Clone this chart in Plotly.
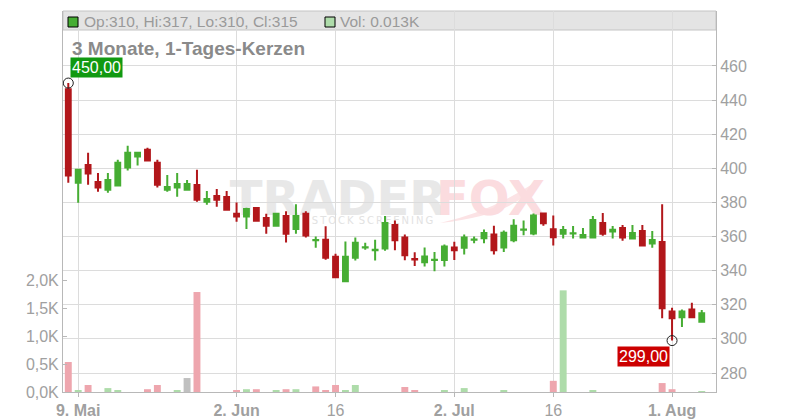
import plotly.graph_objects as go

# ---------------- data ----------------
dates = [
    "2025-05-08", "2025-05-09",
    "2025-05-12", "2025-05-13", "2025-05-14", "2025-05-15", "2025-05-16",
    "2025-05-19", "2025-05-20", "2025-05-21", "2025-05-22", "2025-05-23",
    "2025-05-26", "2025-05-27", "2025-05-28", "2025-05-29", "2025-05-30",
    "2025-06-02", "2025-06-03", "2025-06-04", "2025-06-05", "2025-06-06",
    "2025-06-09", "2025-06-10", "2025-06-11", "2025-06-12", "2025-06-13",
    "2025-06-16", "2025-06-17", "2025-06-18", "2025-06-19", "2025-06-20",
    "2025-06-23", "2025-06-24", "2025-06-25", "2025-06-26", "2025-06-27",
    "2025-06-30", "2025-07-01", "2025-07-02", "2025-07-03", "2025-07-04",
    "2025-07-07", "2025-07-08", "2025-07-09", "2025-07-10", "2025-07-11",
    "2025-07-14", "2025-07-15", "2025-07-16", "2025-07-17", "2025-07-18",
    "2025-07-21", "2025-07-22", "2025-07-23", "2025-07-24", "2025-07-25",
    "2025-07-28", "2025-07-29", "2025-07-30", "2025-07-31", "2025-08-01",
    "2025-08-04", "2025-08-05", "2025-08-06",
]

opens = [
    446.3, 391.6, 402.0, 392.0, 387.5, 389.9, 400.5, 407.0, 410.9, 403.2,
    387.5, 388.7, 387.5, 390.2, 380.4, 383.8, 383.2, 373.4, 371.7, 376.7,
    370.9, 366.4, 372.0, 364.5, 373.4, 357.8, 358.1, 348.2, 333.8, 347.6,
    353.6, 352.0, 353.0, 366.8, 359.4, 346.9, 345.0, 346.2, 346.3, 353.6,
    353.4, 358.1, 359.0, 361.2, 353.6, 357.9, 364.0, 361.8, 373.5, 364.3,
    361.7, 361.8, 359.4, 359.4, 367.9, 362.9, 365.0, 358.8, 363.3, 355.9,
    356.8, 316.0, 312.7, 317.2, 310.0,
]
highs = [
    450.0, 399.8, 409.1, 397.3, 397.3, 405.0, 413.3, 409.1, 412.1, 405.0,
    396.1, 397.3, 393.2, 399.1, 386.7, 387.9, 386.7, 380.0, 376.9, 376.7,
    373.4, 374.0, 374.8, 379.0, 374.8, 360.0, 366.0, 349.9, 357.1, 359.4,
    356.3, 358.1, 372.0, 369.4, 361.2, 350.8, 353.6, 351.0, 355.3, 356.9,
    361.2, 360.0, 364.1, 366.4, 363.5, 370.2, 369.4, 373.5, 373.5, 372.3,
    366.2, 366.2, 365.0, 372.0, 373.8, 366.2, 366.8, 366.8, 366.8, 363.3,
    379.0, 318.3, 317.2, 321.2, 317.0,
]
lows = [
    391.6, 379.8, 390.4, 386.3, 385.7, 389.9, 398.7, 401.7, 404.6, 388.7,
    386.3, 383.4, 387.5, 380.4, 378.6, 377.5, 375.7, 368.7, 364.5, 369.3,
    361.7, 366.4, 356.5, 361.7, 359.4, 353.4, 346.4, 336.1, 333.8, 346.0,
    352.2, 346.0, 351.7, 352.0, 346.1, 342.8, 342.4, 339.7, 342.4, 346.3,
    349.5, 356.1, 356.1, 349.5, 351.0, 356.7, 360.8, 360.8, 366.4, 354.7,
    358.8, 358.8, 359.4, 359.4, 360.5, 358.8, 357.6, 358.8, 354.7, 353.5,
    312.1, 299.0, 306.9, 312.1, 310.0,
]
closes = [
    395.8, 399.1, 396.9, 388.7, 393.2, 403.2, 409.1, 409.1, 404.6, 390.4,
    389.1, 390.8, 390.8, 381.6, 382.0, 381.6, 375.7, 371.7, 376.1, 369.3,
    366.4, 373.4, 361.7, 372.0, 360.6, 358.0, 347.6, 336.1, 348.2, 356.3,
    353.8, 352.2, 368.0, 357.8, 349.1, 346.6, 348.3, 346.4, 354.1, 352.0,
    359.4, 358.3, 362.1, 352.0, 362.3, 366.4, 364.2, 372.3, 367.8, 359.6,
    363.9, 362.0, 360.9, 369.7, 361.7, 364.0, 359.4, 362.1, 354.7, 358.0,
    317.9, 312.1, 316.0, 312.7, 315.0,
]
volumes = [
    537, 20, 125, 0, 70, 20, 0, 0, 50, 125,
    0, 20, 250, 1790, 0, 0, 0, 20, 50, 50,
    0, 20, 50, 50, 0, 100, 20, 125, 20, 125,
    0, 0, 0, 0, 90, 30, 0, 0, 30, 0,
    70, 0, 0, 0, 20, 0, 0, 0, 0, 200,
    1820, 0, 0, 20, 0, 0, 0, 0, 0, 0,
    160, 50, 0, 0, 13,
]

price_ticks = [280, 300, 320, 340, 360, 380, 400, 420, 440, 460]
vol_ticks = [0, 500, 1000, 1500, 2000]
vol_tick_labels = ["0,0K", "0,5K", "1,0K", "1,5K", "2,0K"]
x_tick_dates = ["2025-05-09", "2025-06-02", "2025-06-16", "2025-07-02", "2025-07-16", "2025-08-01"]
x_tick_labels = ["<b>9. Mai</b>", "<b>2. Jun</b>", "16", "<b>2. Jul</b>", "16", "<b>1. Aug</b>"]
title_text = "3 Monate, 1-Tages-Kerzen"
legend_ohlc = "Op:310, Hi:317, Lo:310, Cl:315"
legend_vol = "Vol: 0.013K"

# ---------------- styles ----------------
RED = "#b2171b"
GREEN = "#46ad33"
VOL_RED = "#eea6ae"
VOL_GREEN = "#aedcaa"
VOL_GRAY = "#c0c0c0"
GRID = "#dcdcdc"
AXIS = "#b8b8b8"
TXT = "#a0a0a0"
FONT = "Liberation Sans, Arial, sans-serif"

vol_colors = []
for i, c in enumerate(closes):
    ref = closes[i - 1] if i > 0 else opens[i]
    if c > ref:
        vol_colors.append(VOL_GREEN)
    elif c < ref:
        vol_colors.append(VOL_RED)
    else:
        vol_colors.append(VOL_GRAY)

fig = go.Figure()

fig.add_trace(go.Bar(
    x=dates, y=volumes, marker=dict(color=vol_colors, line=dict(width=0)),
    xaxis="x", yaxis="y", hoverinfo="skip", showlegend=False,
))

fig.add_trace(go.Candlestick(
    x=dates, open=opens, high=highs, low=lows, close=closes,
    increasing=dict(line=dict(color=GREEN, width=2), fillcolor=GREEN),
    decreasing=dict(line=dict(color=RED, width=2), fillcolor=RED),
    xaxis="x", yaxis="y2", hoverinfo="skip", showlegend=False,
))

i_hi = highs.index(max(highs))
i_lo = lows.index(min(lows))
fig.add_trace(go.Scatter(
    x=[dates[i_hi], dates[i_lo]], y=[highs[i_hi], lows[i_lo]], mode="markers",
    marker=dict(symbol="circle-open", size=10, color="#222222", line=dict(width=1)),
    xaxis="x", yaxis="y2", hoverinfo="skip", showlegend=False,
))

# The page body has an 8px margin: the figure starts at screen (8, 8).
OFF = 8
W, H = 800 - OFF, 420 - OFF
# plot area in screen pixels
L, R, T, B = 63, 716, 11, 392
def px(x):
    return (x - L) / (R - L)
def py(y):
    return (B - y) / (B - T)

def swoosh_path():
    pts = [("M", 440, 223), ("Q", 490, 212, 534, 183), ("Q", 520, 214, 440, 223)]
    out = []
    for p in pts:
        if p[0] == "M":
            out.append(f"M {px(p[1]):.4f},{py(p[2]):.4f}")
        else:
            out.append(f"Q {px(p[1]):.4f},{py(p[2]):.4f} {px(p[3]):.4f},{py(p[4]):.4f}")
    return " ".join(out) + " Z"

shapes = [
    # header band
    dict(type="rect", xref="paper", yref="paper", x0=0, x1=1, y0=py(30), y1=1,
         fillcolor="#e4e4e4", line=dict(color="#c4c4c4", width=1), layer="below"),
    # legend squares
    dict(type="rect", xref="paper", yref="paper", x0=px(68), x1=px(78), y0=py(27), y1=py(17),
         fillcolor=GREEN, line=dict(color="#000000", width=1), layer="above"),
    dict(type="rect", xref="paper", yref="paper", x0=px(325), x1=px(335), y0=py(27), y1=py(17),
         fillcolor=VOL_GREEN, line=dict(color="#000000", width=1), layer="above"),
    # watermark
    dict(type="path", xref="paper", yref="paper", path=swoosh_path(),
         fillcolor="#fce3e5", line=dict(width=0), layer="below"),
    dict(type="rect", xref="paper", yref="paper", x0=px(238), x1=px(438), y0=py(217), y1=py(173),
         fillcolor="rgba(0,0,0,0)", line=dict(width=0), layer="below",
         label=dict(text="<b>TRADER</b>", font=dict(size=48, color="#e8e8e8", family="DejaVu Sans"),
                    textposition="middle center")),
    dict(type="rect", xref="paper", yref="paper", x0=px(428), x1=px(553), y0=py(217), y1=py(173),
         fillcolor="rgba(0,0,0,0)", line=dict(width=0), layer="below",
         label=dict(text="<b>FOX</b>", font=dict(size=48, color="#fbdcdf", family="DejaVu Sans"),
                    textposition="middle center")),
    dict(type="rect", xref="paper", yref="paper", x0=px(300), x1=px(445), y0=py(226), y1=py(212),
         fillcolor="rgba(0,0,0,0)", line=dict(width=0), layer="below",
         label=dict(text="\u2009".join("STOCK") + "\u2002" + "\u2009".join("SCREENING"),
                    font=dict(size=10, color="#e2e2e2", family="DejaVu Sans"),
                    textposition="middle center")),
]

annotations = [
    dict(xref="paper", yref="paper", x=px(82), y=py(21.5), xanchor="left", yanchor="middle",
         text=legend_ohlc, showarrow=False,
         font=dict(size=15.5, color="#9a9a9a", family=FONT)),
    dict(xref="paper", yref="paper", x=px(338), y=py(21.5), xanchor="left", yanchor="middle",
         text=legend_vol, showarrow=False,
         font=dict(size=15.5, color="#9a9a9a", family=FONT)),
    dict(xref="paper", yref="paper", x=px(70), y=py(48), xanchor="left", yanchor="middle",
         text="<b>" + title_text + "</b>", showarrow=False,
         font=dict(size=19, color="#8a8a8a", family=FONT)),
    dict(xref="x", yref="y2", x=dates[i_hi], y=highs[i_hi], xanchor="left", yanchor="bottom",
         xshift=2, yshift=5, text=f"{highs[i_hi]:.2f}".replace(".", ","), showarrow=False,
         bgcolor="#119911", borderpad=1, font=dict(size=16, color="white", family=FONT)),
    dict(xref="x", yref="y2", x=dates[i_lo], y=lows[i_lo], xanchor="right", yanchor="top",
         xshift=-2, yshift=-5, text=f"{lows[i_lo]:.2f}".replace(".", ","), showarrow=False,
         bgcolor="#cc0000", borderpad=1, font=dict(size=16, color="white", family=FONT)),
]

n = len(dates)
fig.update_layout(
    width=W, height=H, autosize=False,
    margin=dict(l=L - OFF, r=800 - R, t=T - OFF, b=420 - B, pad=0),
    paper_bgcolor="white", plot_bgcolor="white",
    font=dict(family=FONT, color=TXT),
    bargap=0.3, showlegend=False, hovermode=False,
    xaxis=dict(
        type="category", range=[-0.535, n - 1 + 1.44],
        tickmode="array", tickvals=x_tick_dates, ticktext=x_tick_labels,
        showgrid=True, gridcolor=GRID, gridwidth=1,
        showline=True, linecolor=AXIS, linewidth=1,
        ticks="outside", ticklen=4, tickcolor=AXIS,
        tickfont=dict(size=16, color=TXT), rangeslider=dict(visible=False),
        fixedrange=True, automargin=False,
    ),
    yaxis=dict(
        side="left", range=[0, 2000 * (B - T) / 111.7],
        tickmode="array", tickvals=vol_ticks, ticktext=vol_tick_labels,
        showgrid=False, zeroline=False,
        showline=True, linecolor=AXIS, linewidth=1,
        ticks="inside", ticklen=4, tickcolor=AXIS,
        tickfont=dict(size=16, color=TXT), fixedrange=True, automargin=False,
    ),
    yaxis2=dict(
        overlaying="y", side="right",
        range=[280 - (B - 373) / 1.7056, 280 + (373 - T) / 1.7056],
        tickmode="array", tickvals=price_ticks,
        showgrid=True, gridcolor=GRID, gridwidth=1, zeroline=False,
        showline=True, linecolor=AXIS, linewidth=1,
        ticks="inside", ticklen=4, tickcolor=AXIS,
        tickfont=dict(size=16, color=TXT), fixedrange=True, automargin=False,
    ),
    shapes=shapes,
    annotations=annotations,
)

fig.write_html("out.html")
